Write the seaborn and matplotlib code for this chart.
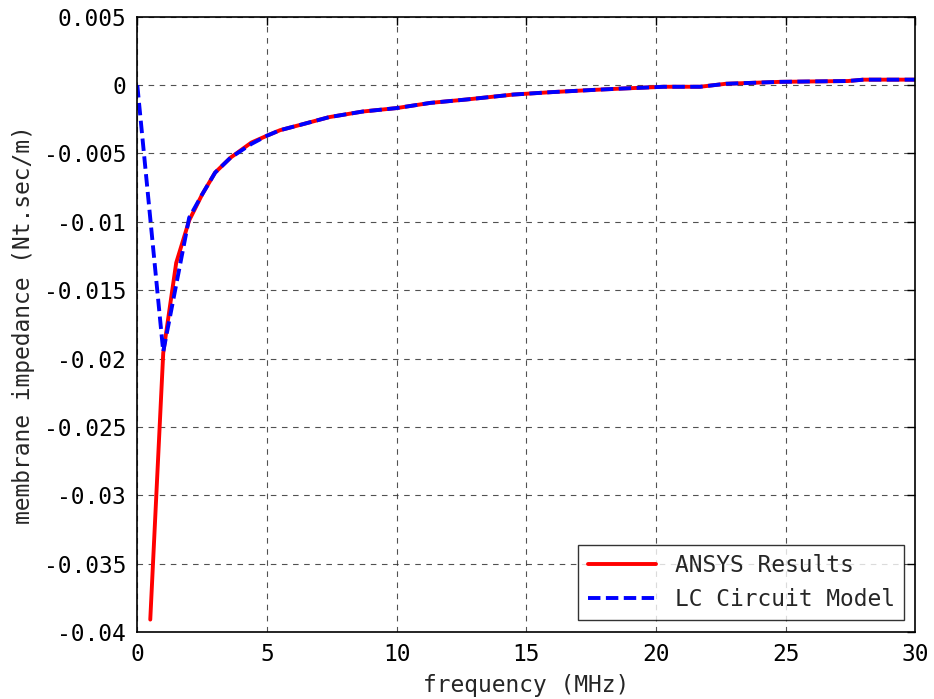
import matplotlib
matplotlib.use("Agg")
import matplotlib.pyplot as plt
import seaborn as sns
import pandas as pd

# ANSYS results (red solid)
ansys_freq = [0.5, 1.0, 1.5, 2.0, 2.5, 3.0, 3.6, 4.4, 5.0, 5.5, 6.3, 7.4, 8.7, 10.0,
              11.3, 12.7, 14.5, 16.0, 17.7, 18.7, 20.3, 21.7, 22.7, 24.8, 27.4, 28.0, 30.0]
ansys_imp = [-0.0391, -0.0196, -0.0130, -0.0099, -0.0080, -0.0064, -0.0053, -0.0042, -0.0037,
             -0.0033, -0.0029, -0.00234, -0.00193, -0.00168, -0.00130, -0.00105, -0.00069,
             -0.00051, -0.00034, -0.00025, -0.00012, -0.00012, 0.00010, 0.00024, 0.00030,
             0.00040, 0.00040]

# LC circuit model (blue dashed)
lc_freq = [0.0, 1.0, 2.0, 2.5, 3.0, 3.6, 4.4, 5.0, 5.5, 6.3, 7.4, 8.7, 10.0,
           11.3, 12.7, 14.5, 16.0, 17.7, 18.7, 20.3, 21.7, 22.7, 24.8, 27.4, 28.0, 30.0]
lc_imp = [0.0, -0.0195, -0.0097, -0.0080, -0.0064, -0.0053, -0.0043, -0.0037,
          -0.0033, -0.0029, -0.00234, -0.00193, -0.00168, -0.00130, -0.00105, -0.00069,
          -0.00051, -0.00034, -0.00025, -0.00012, -0.00012, 0.00010, 0.00024, 0.00030,
          0.00040, 0.00040]

labels = ["ANSYS Results", "LC Circuit Model"]

df = pd.concat([
    pd.DataFrame({"f": ansys_freq, "z": ansys_imp, "s": labels[0]}),
    pd.DataFrame({"f": lc_freq, "z": lc_imp, "s": labels[1]}),
])

sns.set_style("white")
plt.rcParams["font.family"] = ["DejaVu Sans Mono"]

fig = plt.figure(figsize=(9.34, 6.99), dpi=100)
ax = fig.add_axes([0.147, 0.096, 0.833, 0.880])

sns.lineplot(data=df, x="f", y="z", hue="s", style="s", sort=False,
             palette={labels[0]: "#ff0000", labels[1]: "#0000ff"},
             dashes={labels[0]: "", labels[1]: (3.2, 1.4)},
             linewidth=2.8, ax=ax, estimator=None)

ax.set_xlim(0, 30)
ax.set_ylim(-0.04, 0.005)
ax.set_xticks([0, 5, 10, 15, 20, 25, 30])
yt = [-0.04, -0.035, -0.03, -0.025, -0.02, -0.015, -0.01, -0.005, 0, 0.005]
ax.set_yticks(yt)
ax.set_yticklabels(["-0.04", "-0.035", "-0.03", "-0.025", "-0.02", "-0.015",
                    "-0.01", "-0.005", "0", "0.005"])
ax.grid(True, color="#333333", linestyle=(0, (5, 5)), linewidth=0.8, alpha=0.85)
ax.tick_params(direction="in", length=6, width=1, top=True, right=True,
               labelsize=16.5, colors="black", pad=8)
for sp in ax.spines.values():
    sp.set_color("black")
    sp.set_linewidth(1.2)

ax.set_xlabel("frequency (MHz)", fontsize=16.5, labelpad=6)
ax.set_ylabel("membrane impedance (Nt.sec/m)", fontsize=16.5, labelpad=6)

leg = ax.legend(loc="lower right", fontsize=16.5, frameon=True, fancybox=False,
                edgecolor="black", handlelength=3, borderaxespad=0.5)
leg.get_frame().set_linewidth(1.0)
leg.set_title(None)

fig.savefig("out.png", dpi=100, facecolor="white")
